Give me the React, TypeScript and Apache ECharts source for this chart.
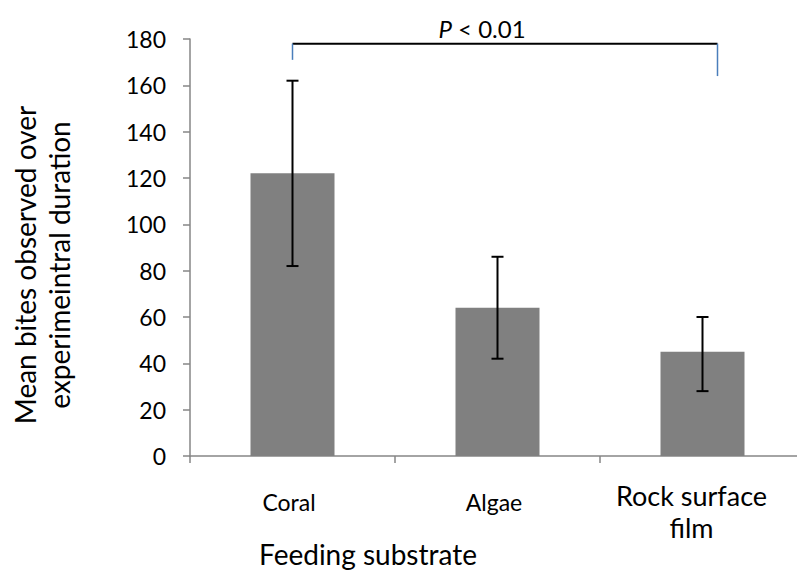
import React, { useEffect, useRef } from 'react';
import * as echarts from 'echarts';

const categories = ['Coral', 'Algae', 'Rock surface film'];
const meanBites = [122, 64, 45];
const errorLow = [82, 42, 28];
const errorHigh = [162, 86, 60];
const yMin = 0;
const yMax = 180;
const yInterval = 20;
// significance bracket: from category index 0 to 2
const bracketFrom = [0];
const bracketTo = [2];
const bracketLevel = [178];
const bracketLeftDrop = [171];
const bracketRightDrop = [164];

const FONT = 'Lato, "Open Sans", sans-serif';

export default function App() {
  const ref = useRef<HTMLDivElement>(null);
  useEffect(() => {
    if (!ref.current) return;
    const chart = echarts.init(ref.current, undefined, { renderer: 'svg' });
    const errData = categories.map((c, i) => [i, errorLow[i], errorHigh[i]]);
    const bracketData = bracketFrom.map((f, i) => [
      f,
      bracketTo[i],
      bracketLevel[i],
      bracketLeftDrop[i],
      bracketRightDrop[i],
    ]);
    const option: any = {
      animation: false,
      textStyle: { fontFamily: FONT },
      grid: { left: 190, top: 39, width: 615, height: 417, containLabel: false },
      xAxis: {
        type: 'category',
        data: categories,
        axisLine: { show: true, lineStyle: { color: '#868686', width: 1.5 } },
        axisTick: { show: true, length: 7, lineStyle: { color: '#868686', width: 1.5 } },
        axisLabel: {
          interval: 0,
          margin: 23,
          color: '#000',
          fontFamily: FONT,
          formatter: (v: string) => {
            if (v === 'Rock surface film') return '{r|Rock surface}\n{r|film}';
            return '{c|' + v + '}';
          },
          rich: {
            c: { fontSize: 23, lineHeight: 46, color: '#000', fontFamily: FONT, padding: [0, 7, 0, 0] },
            r: { fontSize: 27, lineHeight: 32, color: '#000', fontFamily: FONT, padding: [0, 22, 0, 0] },
          },
        },
        splitLine: { show: false },
      },
      yAxis: {
        type: 'value',
        min: yMin,
        max: yMax,
        interval: yInterval,
        axisLine: { show: true, lineStyle: { color: '#868686', width: 1.5 } },
        axisTick: { show: true, length: 7, lineStyle: { color: '#868686', width: 1.5 } },
        axisLabel: { color: '#000', fontSize: 23, margin: 24, fontFamily: FONT },
        splitLine: { show: false },
      },
      graphic: [
        {
          type: 'text',
          x: 42,
          y: 265,
          rotation: Math.PI / 2,
          style: {
            text: 'Mean bites observed over\nexperimeintral duration',
            fontSize: 28,
            lineHeight: 34,
            fontFamily: FONT,
            fill: '#000',
            align: 'center',
            verticalAlign: 'middle',
          },
        },
        {
          type: 'text',
          x: 368,
          y: 554,
          style: {
            text: 'Feeding substrate',
            fontSize: 28,
            fontFamily: FONT,
            fill: '#000',
            align: 'center',
            verticalAlign: 'middle',
          },
        },
      ],
      series: [
        {
          type: 'bar',
          data: meanBites,
          barWidth: 84,
          itemStyle: { color: '#808080' },
          z: 2,
        },
        {
          type: 'custom',
          data: errData,
          z: 5,
          renderItem: (params: any, api: any) => {
            const x = api.value(0);
            const lo = api.coord([x, api.value(1)]);
            const hi = api.coord([x, api.value(2)]);
            const w = 6;
            const st = { stroke: '#000', lineWidth: 2 };
            return {
              type: 'group',
              children: [
                { type: 'line', shape: { x1: lo[0], y1: lo[1], x2: hi[0], y2: hi[1] }, style: st },
                { type: 'line', shape: { x1: lo[0] - w, y1: lo[1], x2: lo[0] + w, y2: lo[1] }, style: st },
                { type: 'line', shape: { x1: hi[0] - w, y1: hi[1], x2: hi[0] + w, y2: hi[1] }, style: st },
              ],
            };
          },
        },
        {
          type: 'custom',
          data: bracketData,
          z: 6,
          renderItem: (params: any, api: any) => {
            const a = api.coord([api.value(0), api.value(2)]);
            const b = api.coord([api.value(1), api.value(2)]);
            const aDrop = api.coord([api.value(0), api.value(3)]);
            const bDrop = api.coord([api.value(1), api.value(4)]);
            const xl = a[0];
            const xr = b[0] + 15;
            const y = a[1];
            return {
              type: 'group',
              children: [
                { type: 'line', shape: { x1: xl, y1: y, x2: xr, y2: y }, style: { stroke: '#000', lineWidth: 2 } },
                { type: 'line', shape: { x1: xl, y1: y, x2: xl, y2: aDrop[1] }, style: { stroke: '#4a7ebb', lineWidth: 1.5 } },
                { type: 'line', shape: { x1: xr, y1: y, x2: xr, y2: bDrop[1] }, style: { stroke: '#4a7ebb', lineWidth: 1.5 } },
                {
                  type: 'text',
                  x: (xl + xr) / 2 - 23,
                  y: y - 3,
                  style: {
                    text: '{i|P} < 0.01',
                    rich: { i: { fontStyle: 'italic', fontSize: 24, fontFamily: FONT, fill: '#000' } },
                    fontSize: 24,
                    fontFamily: FONT,
                    fill: '#000',
                    align: 'center',
                    verticalAlign: 'bottom',
                  },
                },
              ],
            };
          },
        },
      ],
    };
    chart.setOption(option);
    return () => chart.dispose();
  }, []);
  return (
    <div style={{ position: 'fixed', left: 0, top: 0, width: 797, height: 571, overflow: 'hidden', background: '#fff' }}>
      <div ref={ref} style={{ width: 812, height: 571 }} />
    </div>
  );
}
